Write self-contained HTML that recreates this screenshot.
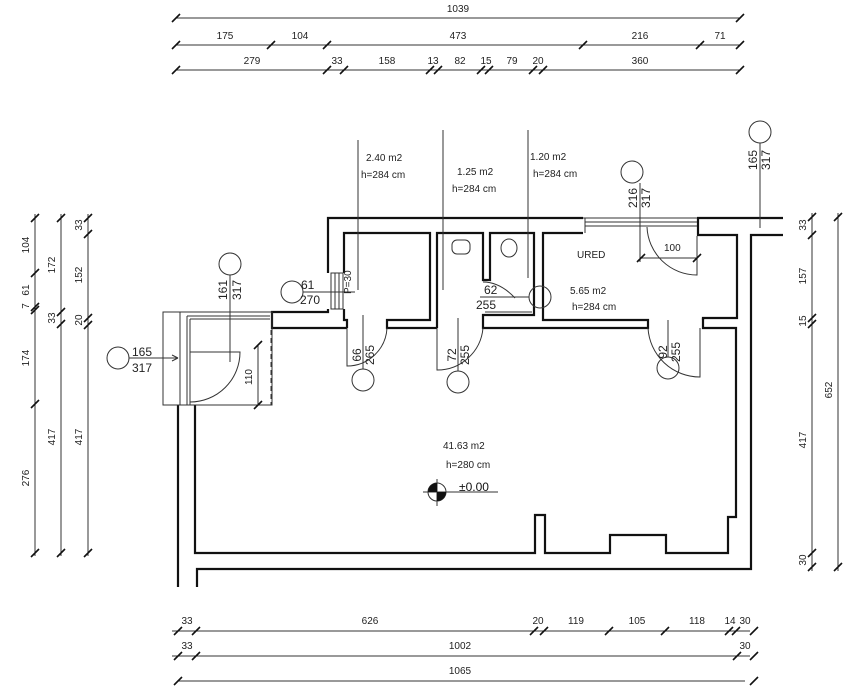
<!DOCTYPE html>
<html><head><meta charset="utf-8"><style>
html,body{margin:0;padding:0;background:#fff;}
svg{display:block;}
text{font-family:"Liberation Sans",sans-serif;font-size:10px;fill:#222;}
.b{font-size:12px;fill:#111;}
</style></head><body>
<svg width="856" height="690" viewBox="0 0 856 690" xmlns="http://www.w3.org/2000/svg">
<defs><path id="t" d="M-4,4 L4,-4" stroke="#111" stroke-width="1.6"/></defs>
<g stroke="#333" stroke-width="1" fill="none">
<!-- top dims -->
<line x1="176" y1="18" x2="740" y2="18"/>
<line x1="176" y1="45" x2="740" y2="45"/>
<line x1="176" y1="70" x2="740" y2="70"/>
<!-- bottom dims -->
<line x1="172" y1="631" x2="750" y2="631"/>
<line x1="172" y1="656" x2="750" y2="656"/>
<line x1="178" y1="681" x2="745" y2="681"/>
<!-- left dims -->
<line x1="35" y1="214" x2="35" y2="556"/>
<line x1="61" y1="214" x2="61" y2="556"/>
<line x1="88" y1="214" x2="88" y2="556"/>
<!-- right dims -->
<line x1="812" y1="213" x2="812" y2="571"/>
<line x1="838" y1="213" x2="838" y2="571"/>
</g>
<g>
<use href="#t" x="176" y="18"/><use href="#t" x="740" y="18"/>
<use href="#t" x="176" y="45"/><use href="#t" x="271" y="45"/><use href="#t" x="327" y="45"/><use href="#t" x="583" y="45"/><use href="#t" x="700" y="45"/><use href="#t" x="740" y="45"/>
<use href="#t" x="176" y="70"/><use href="#t" x="327" y="70"/><use href="#t" x="344" y="70"/><use href="#t" x="430" y="70"/><use href="#t" x="438" y="70"/><use href="#t" x="481" y="70"/><use href="#t" x="489" y="70"/><use href="#t" x="533" y="70"/><use href="#t" x="543" y="70"/><use href="#t" x="740" y="70"/>
<use href="#t" x="178" y="631"/><use href="#t" x="196" y="631"/><use href="#t" x="534" y="631"/><use href="#t" x="544" y="631"/><use href="#t" x="609" y="631"/><use href="#t" x="665" y="631"/><use href="#t" x="729" y="631"/><use href="#t" x="736" y="631"/><use href="#t" x="754" y="631"/>
<use href="#t" x="178" y="656"/><use href="#t" x="196" y="656"/><use href="#t" x="737" y="656"/><use href="#t" x="754" y="656"/>
<use href="#t" x="178" y="681"/><use href="#t" x="754" y="681"/>
<use href="#t" x="35" y="218"/><use href="#t" x="35" y="273"/><use href="#t" x="35" y="307"/><use href="#t" x="35" y="310"/><use href="#t" x="35" y="404"/><use href="#t" x="35" y="553"/>
<use href="#t" x="61" y="218"/><use href="#t" x="61" y="312"/><use href="#t" x="61" y="324"/><use href="#t" x="61" y="553"/>
<use href="#t" x="88" y="218"/><use href="#t" x="88" y="234"/><use href="#t" x="88" y="318"/><use href="#t" x="88" y="325"/><use href="#t" x="88" y="553"/>
<use href="#t" x="812" y="217"/><use href="#t" x="812" y="235"/><use href="#t" x="812" y="318"/><use href="#t" x="812" y="324"/><use href="#t" x="812" y="553"/><use href="#t" x="812" y="567"/>
<use href="#t" x="838" y="217"/><use href="#t" x="838" y="567"/>
</g>
<!-- dim labels -->
<g text-anchor="middle">
<text x="458" y="12">1039</text>
<text x="225" y="39">175</text><text x="300" y="39">104</text><text x="458" y="39">473</text><text x="640" y="39">216</text><text x="720" y="39">71</text>
<text x="252" y="64">279</text><text x="337" y="64">33</text><text x="387" y="64">158</text><text x="433" y="64">13</text><text x="460" y="64">82</text><text x="486" y="64">15</text><text x="512" y="64">79</text><text x="538" y="64">20</text><text x="640" y="64">360</text>
<text x="187" y="624">33</text><text x="370" y="624">626</text><text x="538" y="624">20</text><text x="576" y="624">119</text><text x="637" y="624">105</text><text x="697" y="624">118</text><text x="730" y="624">14</text><text x="745" y="624">30</text>
<text x="187" y="649">33</text><text x="460" y="649">1002</text><text x="745" y="649">30</text>
<text x="460" y="674">1065</text>
</g>
<g text-anchor="middle">
<text transform="translate(29,245) rotate(-90)">104</text>
<text transform="translate(29,290) rotate(-90)">61</text>
<text transform="translate(29,306) rotate(-90)">7</text>
<text transform="translate(29,358) rotate(-90)">174</text>
<text transform="translate(29,478) rotate(-90)">276</text>
<text transform="translate(55,265) rotate(-90)">172</text>
<text transform="translate(55,318) rotate(-90)">33</text>
<text transform="translate(55,437) rotate(-90)">417</text>
<text transform="translate(82,225) rotate(-90)">33</text>
<text transform="translate(82,275) rotate(-90)">152</text>
<text transform="translate(82,320) rotate(-90)">20</text>
<text transform="translate(82,437) rotate(-90)">417</text>
<text transform="translate(806,225) rotate(-90)">33</text>
<text transform="translate(806,276) rotate(-90)">157</text>
<text transform="translate(806,321) rotate(-90)">15</text>
<text transform="translate(806,440) rotate(-90)">417</text>
<text transform="translate(806,560) rotate(-90)">30</text>
<text transform="translate(832,390) rotate(-90)">652</text>
</g>
<!-- walls -->
<g stroke="#111" stroke-width="2.2" fill="none" stroke-linejoin="miter">
<!-- outer -->
<polyline points="583,218 328,218 328,273"/>
<polyline points="328,309 328,312 272,312 272,328 347,328"/>
<polyline points="697,218 783,218"/>
<polyline points="783,235 751,235 751,569 197,569 197,587"/>
<polyline points="178,587 178,405"/>
<polyline points="195,405 195,553 535,553 535,515 545,515 545,553 610,553 610,535 666,535 666,553 728,553 728,517 736,517 736,328 703,328 703,318 737,318 737,235 698,235 698,218"/>
<!-- room 2.40 -->
<polyline points="344,273 344,233 430,233 430,320 387,320 387,328 430,328"/>
<polyline points="344,309 344,320 347,320 347,328"/>
<line x1="430" y1="328" x2="437" y2="328"/>
<!-- toilet 1.25 -->
<polyline points="437,328 437,233 483,233 483,280 490,280 490,233 534,233 534,315 483,315 483,328 648,328 648,320 543,320 543,233 583,233"/>
<polyline points="703,320 703,318"/>
</g>
<g stroke="#333" stroke-width="1" fill="none">
<!-- window -->
<line x1="583" y1="218" x2="697" y2="218"/><line x1="585" y1="222" x2="697" y2="222"/><line x1="585" y1="226" x2="697" y2="226"/>
<line x1="585" y1="218" x2="585" y2="233"/>
<!-- stair/door P=30 -->
<rect x="331" y="273" width="12" height="36"/>
<line x1="335" y1="273" x2="335" y2="309"/><line x1="339" y1="273" x2="339" y2="309"/>
<!-- entry box -->
<rect x="163" y="312" width="109" height="93"/>
<line x1="180" y1="312" x2="180" y2="405"/>
<line x1="187" y1="316" x2="187" y2="405"/><line x1="190" y1="319" x2="190" y2="405"/>
<line x1="187" y1="316" x2="270" y2="316"/><line x1="190" y1="319" x2="270" y2="319"/>
<path d="M271,330 V405 H195" stroke-dasharray="5,3"/>
<path d="M190,352 H240 A50,50 0 0 1 190,402"/>
<line x1="258" y1="345" x2="258" y2="405"/>
<!-- doors -->
<path d="M347,328 V366 A40,40 0 0 0 387,328"/>
<path d="M437,328 V370 A46,46 0 0 0 483,328"/>
<path d="M700,328 V377 A52,52 0 0 1 648,328"/>
<path d="M697,236 V275 A50,50 0 0 1 647,227"/>
<line x1="641" y1="258" x2="697" y2="258"/>
<path d="M483,282 Q500,282 515,298"/>
<line x1="485" y1="312" x2="532" y2="312"/>
<!-- toilets -->
<rect x="452" y="240" width="18" height="14" rx="5"/>
<ellipse cx="509" cy="248" rx="8" ry="9"/>
<!-- leader lines -->
<line x1="358" y1="140" x2="358" y2="290"/>
<line x1="443" y1="130" x2="443" y2="290"/>
<line x1="528" y1="130" x2="528" y2="278"/>
<line x1="230" y1="275" x2="230" y2="362"/>
<line x1="129" y1="358" x2="178" y2="358"/>
<line x1="178" y1="358" x2="172" y2="355"/><line x1="178" y1="358" x2="172" y2="361"/>
<line x1="303" y1="292" x2="355" y2="292"/>
<line x1="363" y1="315" x2="363" y2="369"/>
<line x1="458" y1="318" x2="458" y2="371"/>
<line x1="480" y1="297" x2="529" y2="297"/>
<line x1="668" y1="320" x2="668" y2="357"/>
<line x1="640" y1="183" x2="640" y2="262"/>
<line x1="760" y1="143" x2="760" y2="228"/>
<circle cx="118" cy="358" r="11"/>
<circle cx="230" cy="264" r="11"/>
<circle cx="292" cy="292" r="11"/>
<circle cx="363" cy="380" r="11"/>
<circle cx="458" cy="382" r="11"/>
<circle cx="540" cy="297" r="11"/>
<circle cx="668" cy="368" r="11"/>
<circle cx="632" cy="172" r="11"/>
<circle cx="760" cy="132" r="11"/>
<!-- level symbol -->
<circle cx="437" cy="492" r="9"/>
<line x1="423" y1="492" x2="498" y2="492"/>
<line x1="437" y1="479" x2="437" y2="506"/>
</g>
<g stroke="#111" stroke-width="1.4"><use href="#t" x="258" y="345"/><use href="#t" x="258" y="405"/><use href="#t" x="641" y="258"/><use href="#t" x="697" y="258"/></g>
<path d="M437,492 V483 A9,9 0 0 0 428,492 Z M437,492 V501 A9,9 0 0 0 446,492 Z" fill="#111"/>
<!-- room labels -->
<text x="366" y="161">2.40 m2</text><text x="361" y="178">h=284 cm</text>
<text x="457" y="175">1.25 m2</text><text x="452" y="192">h=284 cm</text>
<text x="530" y="160">1.20 m2</text><text x="533" y="177">h=284 cm</text>
<text x="577" y="258">URED</text>
<text x="570" y="294">5.65 m2</text><text x="572" y="310">h=284 cm</text>
<text x="664" y="251">100</text>
<text x="443" y="449">41.63 m2</text><text x="446" y="468">h=280 cm</text>
<text x="459" y="491" class="b">±0.00</text>
<text transform="translate(252,385) rotate(-90)">110</text>
<text transform="translate(351,294) rotate(-90)">P=30</text>
<!-- circle labels -->
<g class="b">
<text x="132" y="356" style="font-size:12px">165</text><text x="132" y="372" style="font-size:12px">317</text>
<text x="301" y="289" style="font-size:12px">61</text><text x="300" y="304" style="font-size:12px">270</text>
<text x="484" y="294" style="font-size:12px">62</text><text x="476" y="309" style="font-size:12px">255</text>
</g>
<g style="font-size:12px" text-anchor="middle">
<text transform="translate(227,290) rotate(-90)" style="font-size:12px">161</text><text transform="translate(241,290) rotate(-90)" style="font-size:12px">317</text>
<text transform="translate(361,355) rotate(-90)" style="font-size:12px">66</text><text transform="translate(374,355) rotate(-90)" style="font-size:12px">265</text>
<text transform="translate(456,355) rotate(-90)" style="font-size:12px">72</text><text transform="translate(469,355) rotate(-90)" style="font-size:12px">255</text>
<text transform="translate(667,352) rotate(-90)" style="font-size:12px">92</text><text transform="translate(680,352) rotate(-90)" style="font-size:12px">255</text>
<text transform="translate(637,198) rotate(-90)" style="font-size:12px">216</text><text transform="translate(650,198) rotate(-90)" style="font-size:12px">317</text>
<text transform="translate(757,160) rotate(-90)" style="font-size:12px">165</text><text transform="translate(770,160) rotate(-90)" style="font-size:12px">317</text>
</g>
</svg>
</body></html>
